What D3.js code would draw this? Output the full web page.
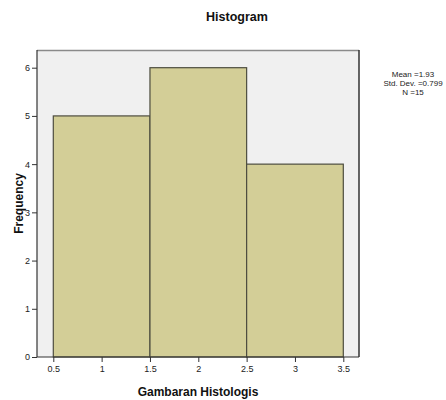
<!DOCTYPE html>
<html><head><meta charset="utf-8">
<script src="https://cdn.jsdelivr.net/npm/d3@7"></script>
<style>body{margin:0;background:#fff;}svg{display:block;font-family:"Liberation Sans",Arial,sans-serif;}</style>
</head><body>
<svg id="c" width="446" height="400"></svg>
<script>
const binStarts = [0.5, 1.5, 2.5];
const binEnds = [1.5, 2.5, 3.5];
const frequencies = [5, 6, 4];
const xTicks = [0.5, 1, 1.5, 2, 2.5, 3, 3.5];
const yTicks = [0, 1, 2, 3, 4, 5, 6];
const stats = ["Mean =1.93", "Std. Dev. =0.799", "N =15"];

const svg = d3.select("#c");
const L = 37, R = 359, T = 50, B = 357;
const x = d3.scaleLinear().domain([0.5, 3.5]).range([53.3, 343.3]);
const y = d3.scaleLinear().domain([0, 6]).range([B, 67.7]);

svg.append("rect").attr("x", L).attr("y", T).attr("width", R - L).attr("height", B - T).attr("fill", "#f0f0f0");

svg.selectAll("rect.bar").data(frequencies).enter().append("rect").attr("class", "bar")
  .attr("x", (d, i) => x(binStarts[i]))
  .attr("y", d => y(d))
  .attr("width", (d, i) => x(binEnds[i]) - x(binStarts[i]))
  .attr("height", d => B - y(d))
  .attr("fill", "#d3ce97").attr("stroke", "#4d4d3f").attr("stroke-width", 1.2);

// frame
svg.append("line").attr("x1", L).attr("x2", R).attr("y1", T + 0.5).attr("y2", T + 0.5).attr("stroke", "#8a8a8a").attr("stroke-width", 1.5);
svg.append("line").attr("x1", R).attr("x2", R).attr("y1", T).attr("y2", B).attr("stroke", "#333").attr("stroke-width", 1.5);
svg.append("line").attr("x1", L).attr("x2", L).attr("y1", T).attr("y2", B).attr("stroke", "#333").attr("stroke-width", 1.2);
svg.append("line").attr("x1", L).attr("x2", R).attr("y1", B).attr("y2", B).attr("stroke", "#333").attr("stroke-width", 1.2);

const xa = svg.append("g").attr("transform", `translate(0,${B})`)
  .call(d3.axisBottom(x).tickValues(xTicks).tickSize(5).tickPadding(4).tickFormat(d3.format("")));
xa.select(".domain").remove();
const ya = svg.append("g").attr("transform", `translate(${L},0)`)
  .call(d3.axisLeft(y).tickValues(yTicks).tickSize(5).tickPadding(2).tickFormat(d3.format("d")));
ya.select(".domain").remove();
svg.selectAll(".tick line").attr("stroke", "#333");
svg.selectAll(".tick text").attr("fill", "#222").style("font-size", "9px").style("font-family", "Liberation Sans, Arial, sans-serif");

svg.append("text").attr("x", 237).attr("y", 21).attr("text-anchor", "middle")
  .style("font-size", "12.5px").style("font-weight", "bold").attr("fill", "#111").text("Histogram");
svg.append("text").attr("x", (L + R) / 2).attr("y", 396).attr("text-anchor", "middle")
  .style("font-size", "12px").style("font-weight", "bold").attr("fill", "#111").text("Gambaran Histologis");
svg.append("text").attr("transform", `translate(23,${(T + B) / 2}) rotate(-90)`).attr("text-anchor", "middle")
  .style("font-size", "12px").style("font-weight", "bold").attr("fill", "#111").text("Frequency");

svg.selectAll("text.stat").data(stats).enter().append("text").attr("class", "stat")
  .attr("x", 413).attr("y", (d, i) => 77 + i * 9.2).attr("text-anchor", "middle")
  .style("font-size", "8px").attr("fill", "#222").text(d => d);
</script>
</body></html>
